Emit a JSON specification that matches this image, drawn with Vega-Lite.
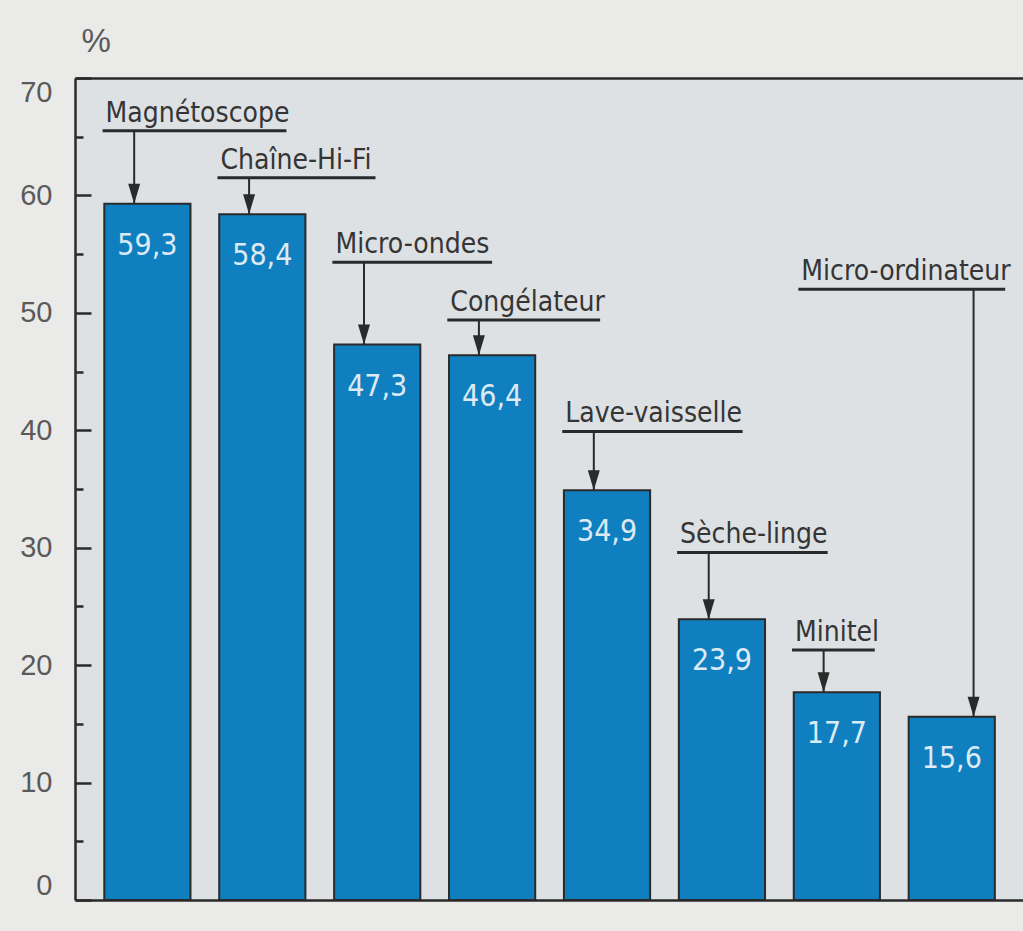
{
  "$schema": "https://vega.github.io/schema/vega-lite/v6.json",
  "width": 948,
  "height": 822,
  "autosize": "none",
  "padding": {"left": 75, "top": 78, "right": 0, "bottom": 31},
  "background": "#eaebe9",
  "config": {
    "view": {"fill": "#dde1e4", "stroke": null},
    "font": "Liberation Sans"
  },
  "data": {
    "values": [
      {"appareil": "Magnétoscope", "valeur": 59.3},
      {"appareil": "Chaîne-Hi-Fi", "valeur": 58.4},
      {"appareil": "Micro-ondes", "valeur": 47.3},
      {"appareil": "Congélateur", "valeur": 46.4},
      {"appareil": "Lave-vaisselle", "valeur": 34.9},
      {"appareil": "Sèche-linge", "valeur": 23.9},
      {"appareil": "Minitel", "valeur": 17.7},
      {"appareil": "Micro-ordinateur", "valeur": 15.6}
    ]
  },
  "transform": [
    {"window": [{"op": "row_number", "as": "rang"}]},
    {"calculate": "datum.rang - 0.375", "as": "x_gauche"},
    {"calculate": "datum.rang + 0.375", "as": "x_droite"},
    {"calculate": "replace(format(datum.valeur, '.1f'), '.', ',')", "as": "etiquette"},
    {"calculate": "datum.valeur + {'Magnétoscope': 6.2, 'Chaîne-Hi-Fi': 3.1, 'Micro-ondes': 7.0, 'Congélateur': 3.0, 'Lave-vaisselle': 5.0, 'Sèche-linge': 5.7, 'Minitel': 3.6, 'Micro-ordinateur': 36.4}[datum.appareil]", "as": "niveau"},
    {"calculate": "datum.appareil === 'Micro-ordinateur' ? datum.rang - 1.335 : datum.x_gauche - 0.015", "as": "trait_debut"},
    {"calculate": "datum.trait_debut + {'Magnétoscope': 1.6, 'Chaîne-Hi-Fi': 1.375, 'Micro-ondes': 1.39, 'Congélateur': 1.33, 'Lave-vaisselle': 1.57, 'Sèche-linge': 1.31, 'Minitel': 0.72, 'Micro-ordinateur': 1.8}[datum.appareil]", "as": "trait_fin"},
    {"calculate": "datum.x_gauche + (datum.appareil === 'Micro-ordinateur' ? 0.565 : 0.26)", "as": "x_fleche"}
  ],
  "resolve": {"axis": {"x": "independent"}},
  "layer": [
    {
      "mark": {"type": "bar", "fill": "#107fbf", "stroke": "#2a2a2a", "strokeWidth": 2},
      "encoding": {
        "x": {
          "field": "x_gauche", "type": "quantitative",
          "scale": {"domain": [0.37, 8.62], "nice": false, "zero": false},
          "axis": {"orient": "bottom", "domain": true, "domainColor": "#2a2a2a", "domainWidth": 2.5, "ticks": false, "labels": false, "grid": false, "title": null}
        },
        "x2": {"field": "x_droite"},
        "y": {
          "field": "valeur", "type": "quantitative",
          "scale": {"domain": [0, 70], "nice": false},
          "axis": {
            "values": [0, 5, 10, 15, 20, 25, 30, 35, 40, 45, 50, 55, 60, 65, 70],
            "labelExpr": "datum.value % 10 === 0 ? datum.label : ''",
            "grid": false,
            "domainColor": "#2a2a2a",
            "domainWidth": 2.5,
            "tickColor": "#2a2a2a",
            "tickWidth": 2.5,
            "tickSize": {"condition": {"test": "datum.value % 10 === 0", "value": -16}, "value": -8},
            "labelPadding": 39,
            "labelFlush": true,
            "labelFlushOffset": 0,
            "labelFont": "Liberation Sans",
            "labelFontSize": 29,
            "labelColor": "#5a5a5a",
            "title": "%",
            "titleAngle": 0,
            "titleAlign": "left",
            "titleBaseline": "alphabetic",
            "titleX": 6,
            "titleY": -27,
            "titleFont": "Liberation Sans",
            "titleFontSize": 33,
            "titleFontWeight": "normal",
            "titleColor": "#5a5a5a"
          }
        },
        "y2": {"datum": 0}
      }
    },
    {
      "mark": {"type": "text", "baseline": "top", "align": "center", "dy": 27, "font": "DejaVu Sans Condensed, Liberation Sans", "fontSize": 30, "fill": "#dceaf4"},
      "encoding": {
        "x": {"field": "rang", "type": "quantitative", "axis": null},
        "y": {"field": "valeur", "type": "quantitative"},
        "text": {"field": "etiquette"}
      }
    },
    {
      "mark": {"type": "rule", "stroke": "#2a2a2a", "strokeWidth": 2},
      "encoding": {
        "x": {"field": "x_fleche", "type": "quantitative", "axis": null},
        "y": {"field": "niveau", "type": "quantitative"},
        "y2": {"field": "valeur"}
      }
    },
    {
      "mark": {"type": "point", "shape": "M-0.6,-2L0.6,-2L0,0Z", "size": 400, "filled": true, "fill": "#2a2a2a", "opacity": 1, "strokeWidth": 0},
      "encoding": {
        "x": {"field": "x_fleche", "type": "quantitative", "axis": null},
        "y": {"field": "valeur", "type": "quantitative"}
      }
    },
    {
      "mark": {"type": "rule", "stroke": "#2a2a2a", "strokeWidth": 3},
      "encoding": {
        "x": {
          "field": "trait_debut", "type": "quantitative",
          "axis": {"orient": "top", "domain": true, "domainColor": "#2a2a2a", "domainWidth": 2.5, "ticks": false, "labels": false, "grid": false, "title": null}
        },
        "x2": {"field": "trait_fin"},
        "y": {"field": "niveau", "type": "quantitative"}
      }
    },
    {
      "mark": {"type": "text", "align": "left", "baseline": "alphabetic", "dx": 3, "dy": -9, "font": "DejaVu Sans Condensed, Liberation Sans", "fontSize": 28, "fill": "#353535"},
      "encoding": {
        "x": {"field": "trait_debut", "type": "quantitative", "axis": null},
        "y": {"field": "niveau", "type": "quantitative"},
        "text": {"field": "appareil"}
      }
    }
  ]
}
